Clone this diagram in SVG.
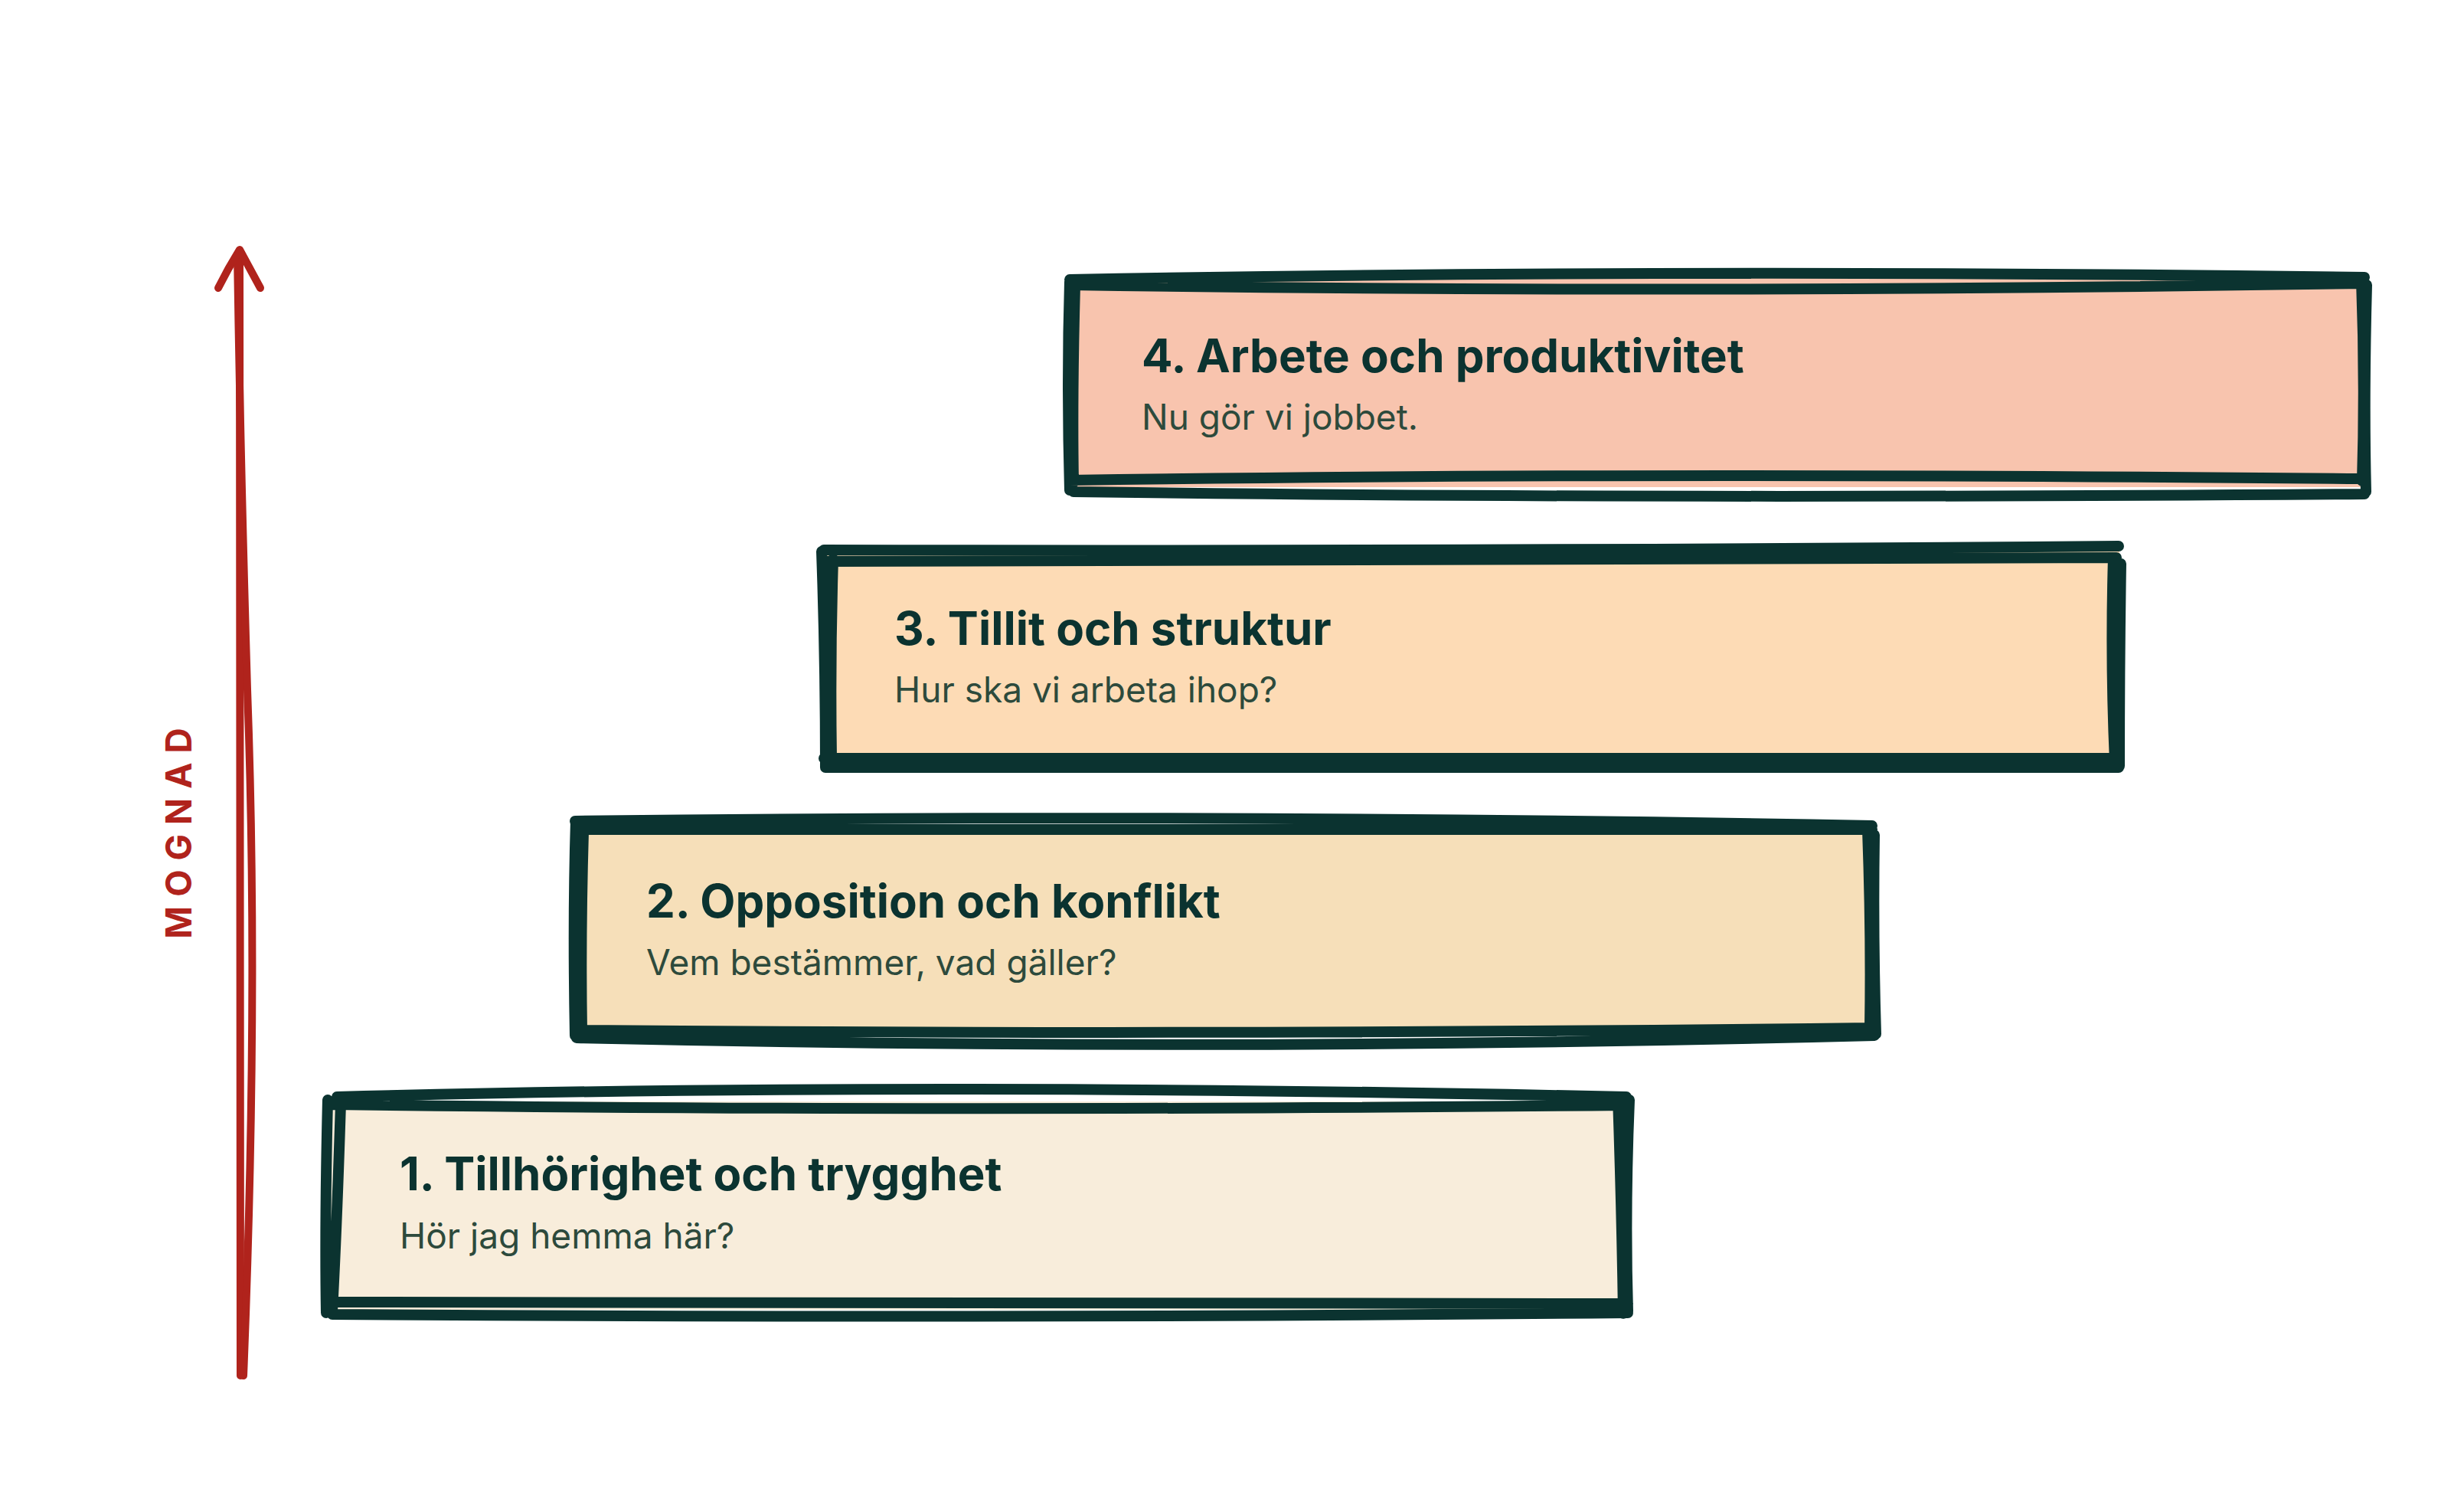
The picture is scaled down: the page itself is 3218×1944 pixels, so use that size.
<svg xmlns="http://www.w3.org/2000/svg" width="3218" height="1944" viewBox="0 0 3218 1944">
<style>
.bd{fill:none;stroke:#0b3330;stroke-width:14;stroke-linecap:round;stroke-linejoin:round}
.ar{fill:none;stroke:#b0231c;stroke-width:10;stroke-linecap:round;stroke-linejoin:round}
.t{font-family:Inter,"Liberation Sans",sans-serif;font-weight:700;font-size:60px;fill:#0b3330}
.s{font-family:Inter,"Liberation Sans",sans-serif;font-weight:400;font-size:46px;fill:#2d4a3c}
.m{font-family:Inter,"Liberation Sans",sans-serif;font-weight:700;font-size:46px;fill:#b0231c;letter-spacing:12px}
</style>
<rect width="3218" height="1944" fill="#ffffff"/>
<g id="axis">
<path class="ar" d="M314 1796 Q312 1100 313 330"/>
<path class="ar" d="M318 1796 Q338 1300 323 900 Q314 600 310 332"/>
<path class="ar" d="M285 376 Q298 350 313 326 Q326 350 340 376"/>
<text class="m" transform="translate(250 1082) rotate(-90)" text-anchor="middle">MOGNAD</text>
</g>
<g id="connectors"></g>
<g id="stage1">
<rect x="432" y="1438" width="1692" height="272" fill="#f8eddb"/>
<path class="bd" d="M440 1432 Q1190 1412 2124 1432 M434 1442 Q1190 1452 2124 1443 M428 1436 Q424 1600 426 1714 M445 1440 Q440 1600 434 1712 M2113 1432 Q2118 1580 2120 1715 M2128 1436 Q2122 1580 2126 1712 M430 1700 Q1300 1704 2126 1702 M434 1716 Q1300 1722 2126 1714"/>
<text class="t" x="522" y="1554">1. Tillhörighet och trygghet</text>
<text class="s" x="522" y="1630">Hör jag hemma här?</text>
</g>
<g id="stage2">
<rect x="755" y="1076" width="1690" height="272" fill="#f6dfb9"/>
<path class="bd" d="M751 1072 Q1600 1062 2445 1078 M753 1083 Q1600 1080 2445 1083 M752 1072 Q748 1200 751 1352 M762 1085 Q758 1220 760 1345 M2439 1083 Q2444 1220 2442 1343 M2448 1090 Q2446 1220 2450 1350 M751 1345 Q1600 1352 2442 1342 M753 1355 Q1600 1374 2448 1352"/>
<text class="t" x="844" y="1198">2. Opposition och konflikt</text>
<text class="s" x="844" y="1273">Vem bestämmer, vad gäller?</text>
</g>
<g id="stage3">
<rect x="1078" y="716" width="1690" height="280" fill="#fddbb5"/>
<path class="bd" d="M1076 718 Q1900 720 2767 713 M1080 733 Q1900 733 2764 728 M1073 720 Q1078 860 1078 1002 M1088 730 Q1084 860 1086 990 M2760 728 Q2756 860 2762 995 M2770 736 Q2768 860 2768 1000 M1076 990 Q1900 992 2767 990 M1078 1002 Q1900 1004 2767 1002"/>
<text class="t" x="1168" y="842">3. Tillit och struktur</text>
<text class="s" x="1168" y="917">Hur ska vi arbeta ihop?</text>
</g>
<g id="stage4">
<rect x="1400" y="358" width="1694" height="278" fill="#f8c4ae"/>
<path class="bd" d="M1397 365 Q2200 350 3088 362 M1397 372 Q2200 384 3088 370 M1397 368 Q1393 500 1397 640 M1404 372 Q1400 520 1402 630 M3084 366 Q3089 500 3085 628 M3091 372 Q3087 520 3090 642 M1397 627 Q2100 616 3085 625 M1402 642 Q2100 652 3088 645"/>
<text class="t" x="1491" y="486">4. Arbete och produktivitet</text>
<text class="s" x="1491" y="561">Nu gör vi jobbet.</text>
</g>
</svg>
